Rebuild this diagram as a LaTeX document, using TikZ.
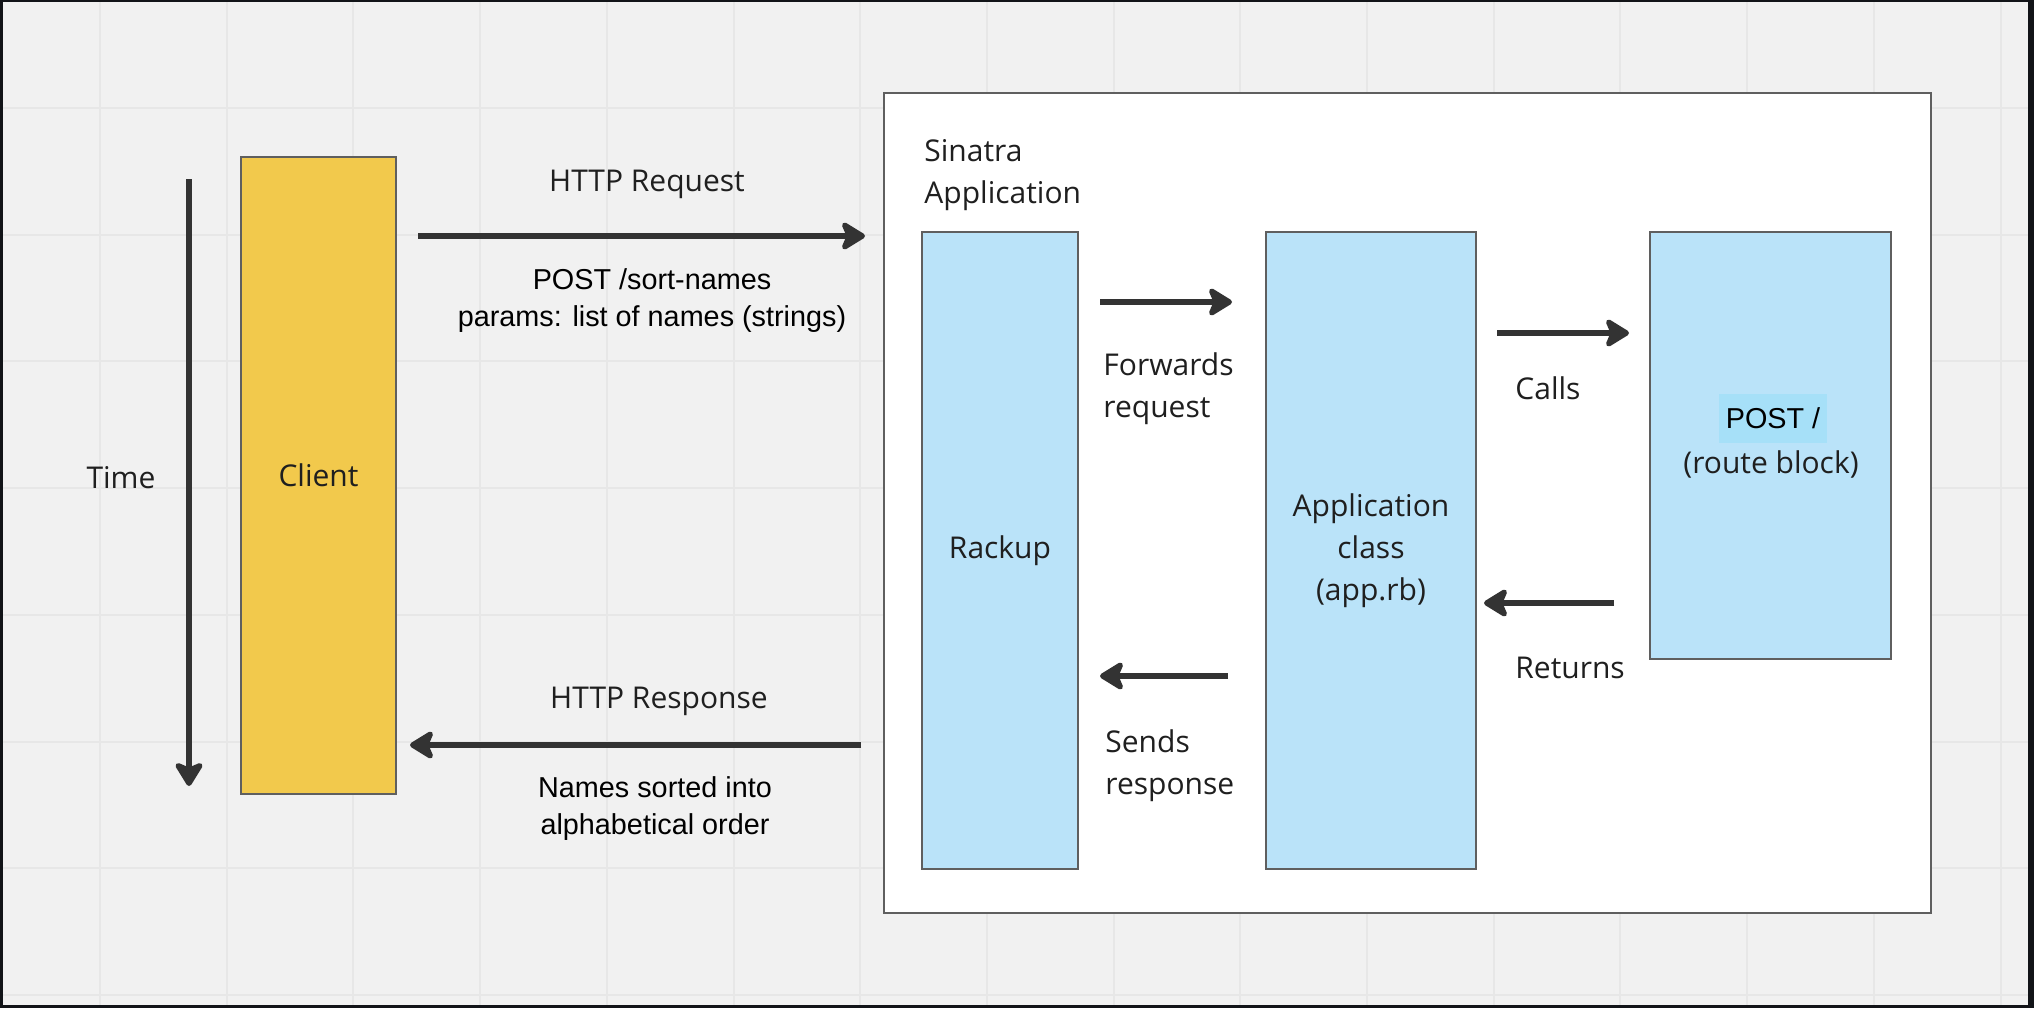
\documentclass[tikz,border=0pt]{standalone}
\usepackage{fontspec}
\setmainfont{Open Sans}
\newfontfamily\arialfont{Liberation Sans}
\usetikzlibrary{arrows.meta}

\definecolor{paper}{HTML}{F1F1F1}
\definecolor{gridgray}{HTML}{E7E7E7}
\definecolor{framedark}{HTML}{121418}
\definecolor{clientyellow}{HTML}{F2C94C}
\definecolor{bluebox}{HTML}{BAE3F9}
\definecolor{hilite}{HTML}{A6E0F8}
\definecolor{arrowgray}{HTML}{333333}
\definecolor{edgegray}{HTML}{5F5F5F}
\definecolor{ink}{HTML}{1F1F1F}

\begin{document}
\begin{tikzpicture}[x=0.5pt, y=-0.5pt,
        label/.style={font=\fontsize{15}{21}\selectfont, text=ink, inner sep=0pt},
        note/.style={font=\arialfont\fontsize{14.4}{18.5}\selectfont, align=center, inner sep=0pt},
        flow/.style={draw=arrowgray, line width=3pt, -{Stealth[length=14pt, width=17pt, inset=3.5pt, round]}},
        block/.style={draw=edgegray, line width=0.75pt, fill=bluebox, inner sep=0pt, minimum height=318.5pt},
    ]
    \useasboundingbox (0,0) rectangle (2034,1008);
    \fill[paper] (0,0) rectangle (2034,1008);
    \foreach \k in {0,...,15}
        \draw[gridgray, line width=1pt] ({100+126.7*\k},0) -- ({100+126.7*\k},1008);
    \foreach \k in {0,...,7}
        \draw[gridgray, line width=1pt] (0,{108+126.7*\k}) -- (2034,{108+126.7*\k});
    \fill[framedark] (0,0) rectangle (3,1008);
    \fill[framedark] (0,0) rectangle (2034,2);
    \fill[framedark] (2028,0) rectangle (2034,1008);
    \fill[framedark] (0,1005) rectangle (2034,1008);

    \node[draw=edgegray, fill=white, line width=1pt, minimum width=523.5pt, minimum height=410pt, anchor=north west] (sinatra) at (883,92) {};
    \node[label, align=left, anchor=west] (sinatralabel) at (924,175) {Sinatra\\Application};

    \node[draw=edgegray, line width=0.75pt, fill=clientyellow, minimum width=77.5pt, minimum height=318.5pt, label] (client) at (318.5,475.5) {Client};
    \node[label] (time) at (121,478) {Time};
    \coordinate (timetop) at (189,179);
    \coordinate (timebottom) at (189,786);
    \draw[flow] (timetop) -- (timebottom);

    \node[block, minimum width=78pt, font=\fontsize{15}{21}\selectfont, text=ink] (rackup) at (1000,550.5) {Rackup};
    \node[block, minimum width=105pt, font=\fontsize{15}{21}\selectfont, text=ink, align=center] (appclass) at (1371,550.5) {Application\\class\\(app.rb)};
    \node[block, minimum width=120.5pt, minimum height=213.5pt] (route) at (1770.5,445.5) {};
    \node[note, fill=hilite, inner xsep=3.5pt, minimum height=24.5pt] (routepost) at (1773,418) {POST /};
    \node[label] (routeblock) at (1771,464) {(route block)};

    \coordinate (reqstart) at (418,236);
    \coordinate (reqend) at (865,236);
    \draw[flow] (reqstart) -- (reqend);
    \node[label] (reqlabel) at (647,184) {HTTP Request};
    \node[note] (reqnote) at (652,301) {POST /sort-names\\params: list of names (strings)};

    \coordinate (respstart) at (861,745);
    \coordinate (respend) at (410,745);
    \draw[flow] (respstart) -- (respend);
    \node[label] (resplabel) at (659,701) {HTTP Response};
    \node[note] (respnote) at (655,809) {Names sorted into\\alphabetical order};

    \coordinate (fwdstart) at (1100,302);
    \coordinate (fwdend) at (1232,302);
    \draw[flow] (fwdstart) -- (fwdend);
    \node[label, align=left, anchor=west] (fwdlabel) at (1103,389) {Forwards\\request};

    \coordinate (sendstart) at (1228,676);
    \coordinate (sendend) at (1100,676);
    \draw[flow] (sendstart) -- (sendend);
    \node[label, align=left, anchor=west] (sendlabel) at (1105,766) {Sends\\response};

    \coordinate (callstart) at (1497,333);
    \coordinate (callend) at (1629,333);
    \draw[flow] (callstart) -- (callend);
    \node[label, anchor=west] (calllabel) at (1515,388) {Calls};

    \coordinate (retstart) at (1614,603);
    \coordinate (retend) at (1484,603);
    \draw[flow] (retstart) -- (retend);
    \node[label, anchor=west] (retlabel) at (1515,668) {Returns};
\end{tikzpicture}
\end{document}
